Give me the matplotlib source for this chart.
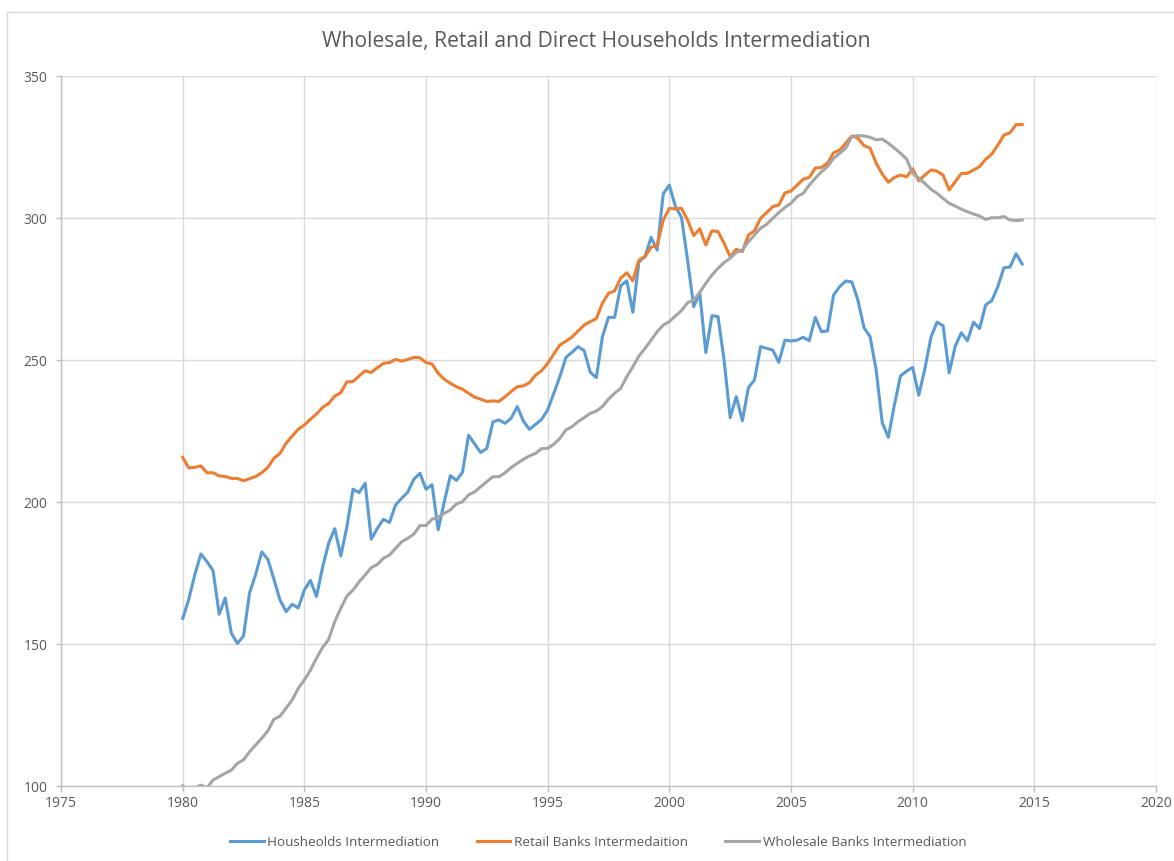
# Wholesale / retail / direct households intermediation, quarterly 1980-2014
import numpy as np
import matplotlib
matplotlib.use("Agg")
import matplotlib.pyplot as plt
from matplotlib.lines import Line2D

plt.rcParams['font.family'] = ['Open Sans', 'DejaVu Sans']

# data (quarterly, starting 1980 Q1)
start_year = 1980
households = [
    159.0, 165.7, 174.5, 181.7, 179.0, 175.8, 160.5, 166.2,
    153.8, 150.2, 152.8, 168.0, 174.5, 182.4, 179.8, 172.8,
    165.5, 161.4, 164.0, 162.7, 169.0, 172.4, 166.7, 177.0,
    185.5, 190.6, 181.0, 191.3, 204.5, 203.3, 206.6, 186.9,
    190.7, 193.9, 192.8, 199.0, 201.3, 203.5, 208.0, 210.1,
    204.5, 206.1, 190.2, 200.0, 209.3, 207.6, 210.5, 223.5,
    220.4, 217.4, 218.9, 228.2, 228.9, 227.7, 229.5, 233.6,
    228.5, 225.6, 227.3, 229.1, 232.4, 238.2, 244.1, 250.9,
    252.7, 254.7, 253.3, 245.7, 243.8, 258.2, 265.0, 265.0,
    276.1, 277.9, 266.8, 284.6, 286.4, 293.2, 288.7, 308.5,
    311.6, 304.0, 300.2, 285.2, 268.8, 273.5, 252.6, 265.6,
    265.3, 250.0, 229.7, 237.1, 228.6, 240.3, 243.0, 254.7,
    254.1, 253.5, 249.2, 257.0, 256.7, 257.0, 258.0, 256.8,
    265.0, 260.0, 260.2, 272.9, 275.8, 277.8, 277.5, 271.1,
    261.4, 258.2, 246.5, 227.9, 222.8, 234.2, 244.4, 246.1,
    247.4, 237.6, 246.8, 258.0, 263.3, 262.1, 245.5, 254.9,
    259.6, 256.8, 263.3, 261.1, 269.4, 270.9, 275.8, 282.5,
    282.7, 287.4, 283.8,
]
retail = [
    215.7, 212.0, 212.2, 212.7, 210.3, 210.3, 209.2, 209.0,
    208.3, 208.3, 207.5, 208.2, 209.0, 210.3, 212.2, 215.4,
    217.1, 220.7, 223.2, 225.6, 227.1, 229.1, 231.0, 233.3,
    234.7, 237.3, 238.5, 242.3, 242.4, 244.4, 246.2, 245.6,
    247.3, 248.8, 249.1, 250.2, 249.6, 250.2, 250.9, 250.8,
    249.1, 248.6, 245.3, 243.2, 241.8, 240.6, 239.7, 238.3,
    236.9, 236.2, 235.4, 235.6, 235.4, 237.1, 238.9, 240.6,
    240.9, 242.0, 244.7, 246.2, 248.8, 252.1, 255.3, 256.6,
    258.1, 260.2, 262.3, 263.5, 264.6, 270.0, 273.5, 274.3,
    278.8, 280.7, 277.9, 285.2, 286.4, 289.7, 290.3, 299.3,
    303.4, 303.2, 303.4, 299.3, 293.8, 296.2, 290.5, 295.5,
    295.2, 291.1, 286.4, 289.0, 288.2, 294.0, 295.5, 299.9,
    301.9, 304.0, 304.6, 308.8, 309.5, 311.6, 313.6, 314.3,
    317.6, 317.8, 319.3, 323.0, 323.9, 326.3, 328.9, 328.1,
    325.5, 324.6, 319.3, 315.5, 312.6, 314.3, 315.1, 314.5,
    317.3, 313.1, 315.1, 316.9, 316.5, 315.1, 309.9, 312.8,
    315.7, 315.7, 316.9, 318.1, 320.7, 322.5, 325.7, 329.2,
    330.0, 332.9, 332.9,
]
wholesale = [
    100.0, 98.8, 99.3, 100.3, 99.4, 102.1, 103.3, 104.5,
    105.6, 108.0, 109.2, 112.1, 114.4, 116.8, 119.4, 123.5,
    124.6, 127.4, 130.3, 134.4, 137.3, 140.8, 145.0, 148.8,
    151.6, 157.9, 162.6, 166.9, 169.0, 171.9, 174.3, 176.9,
    178.0, 180.2, 181.3, 183.7, 186.0, 187.2, 188.7, 191.7,
    191.7, 194.0, 194.6, 196.0, 197.2, 199.3, 200.1, 202.5,
    203.6, 205.4, 207.2, 208.9, 208.9, 210.3, 212.1, 213.6,
    215.0, 216.2, 217.1, 218.8, 218.9, 220.3, 222.4, 225.4,
    226.5, 228.3, 229.7, 231.2, 232.0, 233.6, 236.2, 238.3,
    240.0, 244.1, 247.6, 251.4, 254.1, 257.0, 260.0, 262.3,
    263.5, 265.5, 267.4, 270.2, 271.1, 273.8, 277.0, 279.9,
    282.3, 284.3, 285.8, 287.9, 288.7, 291.7, 294.0, 296.4,
    297.8, 299.9, 301.9, 303.7, 305.2, 307.5, 308.7, 311.6,
    314.0, 316.3, 318.1, 321.0, 322.8, 324.6, 328.7, 329.0,
    328.9, 328.4, 327.5, 327.8, 326.3, 324.6, 322.8, 320.8,
    315.7, 314.0, 312.2, 310.1, 308.7, 306.9, 305.2, 304.2,
    303.1, 302.2, 301.4, 300.7, 299.5, 300.1, 300.1, 300.5,
    299.3, 299.1, 299.3,
]
labels = ["Housheolds Intermediation", "Retail Banks Intermedaition",
          "Wholesale Banks Intermediation"]
title = "Wholesale, Retail and Direct Households Intermediation"

years = start_year + np.arange(len(households)) / 4.0

text_col = "#595959"
grid_col = "#d9d9d9"
colors = ["#5B9BD5", "#ED7D31", "#A5A5A5"]

fig = plt.figure(figsize=(11.74, 8.61), dpi=100)
ax = fig.add_axes([61 / 1174, 1 - 786 / 861, (1156 - 61) / 1174, (786 - 76) / 861])

for series, col, lab in zip([households, retail, wholesale], colors, labels):
    ax.plot(years, series, color=col, lw=2.2, label=lab, solid_joinstyle="round")

ax.set_xlim(1975, 2020)
ax.set_ylim(100, 350)
ax.set_xticks(np.arange(1975, 2021, 5))
ax.set_yticks(np.arange(100, 351, 50))
ax.grid(True, color=grid_col, lw=1.0)
ax.set_axisbelow(True)

for s in ["top", "right"]:
    ax.spines[s].set_visible(False)
for s in ["left", "bottom"]:
    ax.spines[s].set_color("#bfbfbf")
    ax.spines[s].set_linewidth(1.0)

ax.tick_params(axis="x", colors="#bfbfbf", length=4.5, width=1.0, pad=3,
               labelcolor=text_col, labelsize=10)
ax.tick_params(axis="y", colors="#bfbfbf", length=3.6, width=1.0, pad=6,
               labelcolor=text_col, labelsize=10)

fig.text(596 / 1174, 1 - 42 / 861, title, ha="center", va="center",
         fontsize=15.2, color=text_col)

# thin chart border (left and top edges visible in the crop)
fig.add_artist(Line2D([7 / 1174, 7 / 1174], [0, 1 - 12 / 861], transform=fig.transFigure,
                      color="#d9d9d9", lw=1.0))
fig.add_artist(Line2D([7 / 1174, 1], [1 - 12 / 861, 1 - 12 / 861], transform=fig.transFigure,
                      color="#d9d9d9", lw=1.0))

leg = fig.legend(loc="center", bbox_to_anchor=(598 / 1174, 1 - 842 / 861), ncol=3,
                 frameon=False, fontsize=9.7, handlelength=2.5, handletextpad=0.25,
                 columnspacing=2.8)
for t in leg.get_texts():
    t.set_color(text_col)

fig.savefig("out.png", dpi=100)
